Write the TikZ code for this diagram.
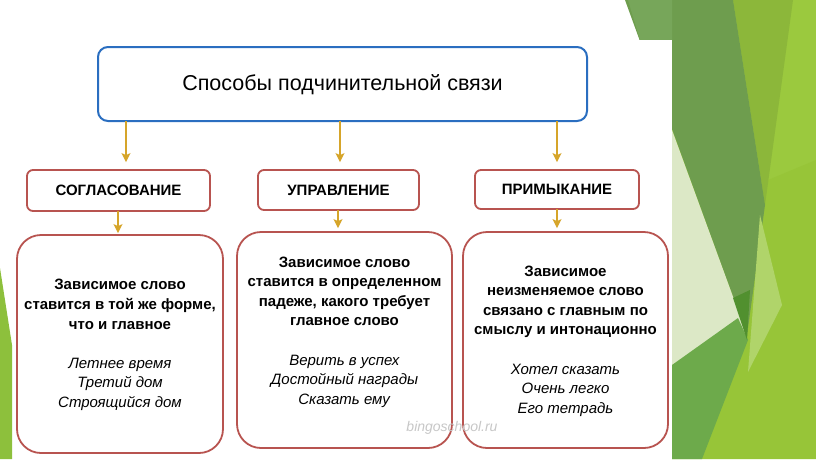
\documentclass[tikz,border=0pt]{standalone}
\usepackage{fontspec}
\setmainfont{Liberation Sans}
\usetikzlibrary{arrows.meta}
\definecolor{tblue}{HTML}{2A6EC0}
\definecolor{tred}{HTML}{B85450}
\definecolor{tgold}{HTML}{D6A52A}
\definecolor{gdark}{HTML}{6E9D4E}
\definecolor{gdarktop}{HTML}{77A65A}
\definecolor{golive}{HTML}{8CB73A}
\definecolor{glime}{HTML}{9BC93E}
\definecolor{glow}{HTML}{97C538}
\definecolor{gmed}{HTML}{6DAA4B}
\definecolor{gpale}{HTML}{DCE8C6}
\definecolor{gdeep}{HTML}{51902F}
\definecolor{glight}{HTML}{B0D46A}
\definecolor{gleft}{HTML}{8DC03C}
\begin{document}
\begin{tikzpicture}[x=1pt,y=-1pt,
  titlebox/.style={draw=tblue, line width=2pt, rounded corners=10pt, fill=white, inner sep=0pt},
  headbox/.style={draw=tred, line width=1.8pt, rounded corners=6pt, fill=white, inner sep=0pt,
     font=\fontsize{15}{18}\selectfont\bfseries},
  contbox/.style={draw=tred, line width=1.8pt, rounded corners=24pt, fill=white, inner sep=0pt},
  conttext/.style={align=center, inner sep=0pt, font=\fontsize{15}{19.6}\selectfont},
  arr/.style={draw=tgold, line width=1.3pt, -{Stealth[width=9pt,length=9pt,inset=2pt]}},
  deco/.style={draw=none}]
\useasboundingbox (0,0) rectangle (816,459);
% background decoration (right)
\fill[glime] (672,0) rectangle (816,459);
\fill[glow] (672,220) -- (816,160) -- (816,459) -- (672,459) -- cycle;
\fill[golive] (733,0) -- (793,0) -- (765,205) -- cycle;
\fill[gdark] (625,0) -- (733,0) -- (765,205) -- (747,335) -- cycle;
\fill[gdarktop] (628,0) -- (672,0) -- (672,40) -- (640,40) -- cycle;
\fill[gpale] (672,130) -- (747,335) -- (672,365) -- cycle;
\fill[gmed] (672,365) -- (738,318) -- (748,340) -- (702,459) -- (672,459) -- cycle;
\fill[gdeep] (733,298) -- (750,290) -- (747,340) -- cycle;
\fill[glight] (760,215) -- (782,305) -- (748,372) -- cycle;
% white panel
\fill[white] (0,40) rectangle (672,459);
% left strip
\fill[gleft] (0,268) -- (12,345) -- (12,459) -- (0,459) -- cycle;

% title
\node[titlebox, minimum width=489pt, minimum height=74pt] (title) at (342.5,84) {};
\node[inner sep=0pt, font=\fontsize{21.5}{25}\selectfont] (ttext) at (342.5,85) {Способы подчинительной связи};

% headers
\node[headbox, minimum width=183pt, minimum height=41pt] (h1) at (118.5,190.5) {СОГЛАСОВАНИЕ};
\node[headbox, minimum width=161pt, minimum height=40pt] (h2) at (338.5,190) {УПРАВЛЕНИЕ};
\node[headbox, minimum width=164pt, minimum height=39pt] (h3) at (557,189.5) {ПРИМЫКАНИЕ};

% content boxes
\node[contbox, minimum width=206pt, minimum height=218pt] (c1) at (120,344) {};
\node[contbox, minimum width=215pt, minimum height=216pt] (c2) at (344.5,340) {};
\node[contbox, minimum width=205pt, minimum height=216pt] (c3) at (565.5,340) {};

\node[conttext] (t1) at (120,345) {\textbf{Зависимое слово}\\
  \textbf{ставится в той же форме,}\\
  \textbf{что и главное}\\[19.6pt]
  \textit{Летнее время}\\
  \textit{Третий дом}\\
  \textit{Строящийся дом}};
\node[conttext] (t2) at (344.5,332) {\textbf{Зависимое слово}\\
  \textbf{ставится в определенном}\\
  \textbf{падеже, какого требует}\\
  \textbf{главное слово}\\[19.6pt]
  \textit{Верить в успех}\\
  \textit{Достойный награды}\\
  \textit{Сказать ему}};
\node[conttext] (t3) at (565.5,341) {\textbf{Зависимое}\\
  \textbf{неизменяемое слово}\\
  \textbf{связано с главным по}\\
  \textbf{смыслу и интонационно}\\[19.6pt]
  \textit{Хотел сказать}\\
  \textit{Очень легко}\\
  \textit{Его тетрадь}};

% arrows
\coordinate (a1) at (126,121);
\coordinate (a2) at (340,121);
\coordinate (a3) at (557,121);
\draw[arr, shorten >=7pt] (a1) -- (a1 |- h1.north);
\draw[arr, shorten >=7pt] (a2) -- (a2 |- h2.north);
\draw[arr, shorten >=7pt] (a3) -- (a3 |- h3.north);
\coordinate (b1) at (118,211);
\coordinate (b2) at (338,210);
\coordinate (b3) at (557,209);
\draw[arr, shorten >=1pt] (b1) -- (b1 |- c1.north);
\draw[arr, shorten >=3pt] (b2) -- (b2 |- c2.north);
\draw[arr, shorten >=3pt] (b3) -- (b3 |- c3.north);

% watermark
\node[inner sep=0pt, text=black!22, font=\fontsize{14}{16}\selectfont\itshape] (wm) at (452,428) {bingoschool.ru};
\end{tikzpicture}
\end{document}
